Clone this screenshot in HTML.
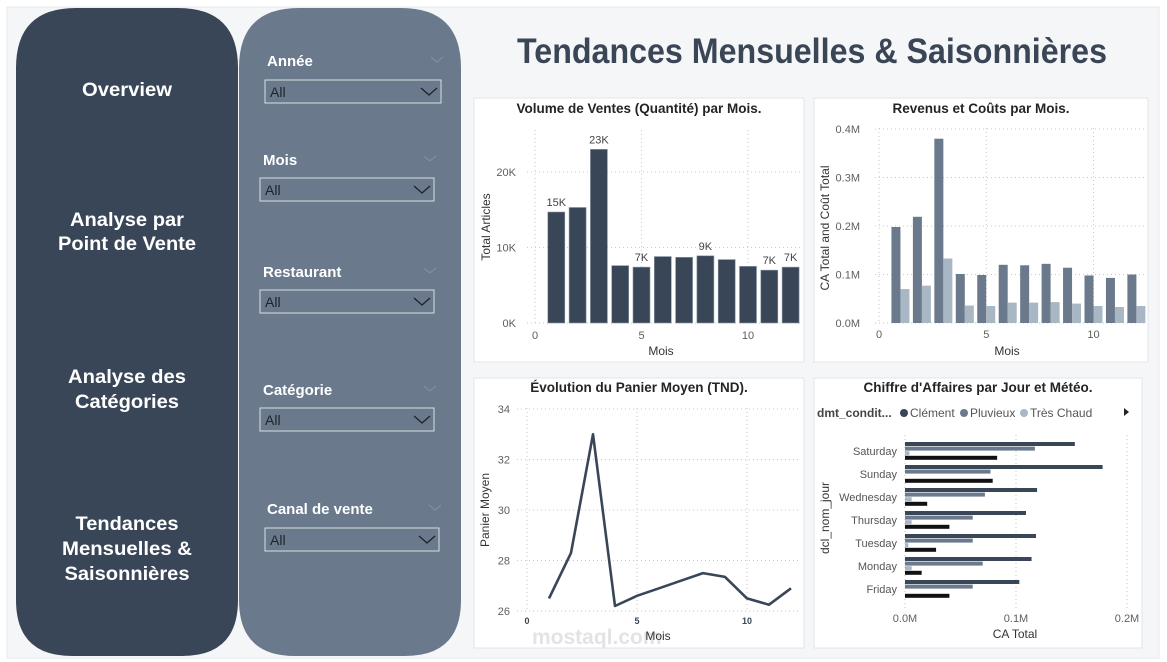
<!DOCTYPE html>
<html><head><meta charset="utf-8"><style>
html,body{margin:0;padding:0;width:1167px;height:662px;overflow:hidden;background:#fff;}
svg{display:block;font-family:"Liberation Sans",sans-serif;}
</style></head><body>
<svg id="s" width="1167" height="662" viewBox="0 0 1167 662" xmlns="http://www.w3.org/2000/svg">
<rect x="0" y="0" width="1167" height="662" fill="#ffffff"/>
<rect x="7" y="7" width="1152" height="651" fill="#f5f6f8" stroke="#e6e8eb"/>
<path d="M16,68 Q16,8 76,8 L178,8 Q238,8 238,68 L238,600 Q238,656 182,656 L72,656 Q16,656 16,600 Z" fill="#394657"/>
<path d="M239,68 Q239,8 299,8 L401,8 Q461,8 461,68 L461,600 Q461,656 405,656 L295,656 Q239,656 239,600 Z" fill="#6a7a8c"/>
<g fill="#fff" font-weight="bold" font-size="19" text-anchor="middle">
<text x="127" y="96" textLength="90" lengthAdjust="spacingAndGlyphs">Overview</text>
<g><text x="127" y="226" textLength="114" lengthAdjust="spacingAndGlyphs">Analyse par</text><text x="127" y="250" textLength="138" lengthAdjust="spacingAndGlyphs">Point de Vente</text></g>
<g><text x="127" y="383" textLength="118" lengthAdjust="spacingAndGlyphs">Analyse des</text><text x="127" y="408" textLength="104" lengthAdjust="spacingAndGlyphs">Catégories</text></g>
<g><text x="127" y="530" textLength="103" lengthAdjust="spacingAndGlyphs">Tendances</text><text x="127" y="555" textLength="130" lengthAdjust="spacingAndGlyphs">Mensuelles &amp;</text><text x="127" y="580" textLength="125" lengthAdjust="spacingAndGlyphs">Saisonnières</text></g>
</g>
<g id="slicers"></g>
<text x="812" y="63" fill="#3a4656" font-weight="bold" font-size="35" text-anchor="middle" textLength="590" lengthAdjust="spacingAndGlyphs">Tendances Mensuelles &amp; Saisonnières</text>
<g>
<rect x="474" y="98" width="330" height="264" fill="#fff" stroke="#e2e4e7"/>
<rect x="814" y="98" width="334" height="264" fill="#fff" stroke="#e2e4e7"/>
<rect x="474" y="378" width="330" height="270" fill="#fff" stroke="#e2e4e7"/>
<rect x="814" y="378" width="328" height="270" fill="#fff" stroke="#e2e4e7"/>
</g>
<g id="c1"></g>
<g id="c2"></g>
<g id="c3"></g>
<g id="c4"></g>
</svg>
<script>
// ---- data ----
const months = [1,2,3,4,5,6,7,8,9,10,11,12];
const volumeK = [14.7,15.3,23,7.6,7.4,8.8,8.7,8.9,8.4,7.5,7,7.4];
const volumeLabels = ["15K","","23K","","7K","","","9K","","","7K","7K"];
const volTicks = [0,10,20];
const revenueM = [0.198,0.219,0.38,0.101,0.099,0.12,0.119,0.122,0.114,0.098,0.093,0.1];
const costM = [0.07,0.077,0.133,0.036,0.035,0.042,0.042,0.043,0.04,0.035,0.033,0.035];
const revTicks = [0,0.1,0.2,0.3,0.4];
const panier = [26.5,28.3,33,26.2,26.6,26.9,27.2,27.5,27.35,26.5,26.25,26.9];
const panierTicks = [26,28,30,32,34];
const xTicks = [0,5,10];
const days = ["Saturday","Sunday","Wednesday","Thursday","Tuesday","Monday","Friday"];
const clement = [0.153,0.178,0.119,0.109,0.118,0.114,0.103];
const pluvieux = [0.117,0.077,0.072,0.061,0.061,0.07,0.061];
const tresChaud = [0.004,0,0.006,0.006,0.003,0.006,0];
const autre = [0.083,0.079,0.02,0.04,0.028,0.015,0.04];
const caTicks = [0,0.1,0.2];
const slicerNames = ["Année","Mois","Restaurant","Catégorie","Canal de vente"];

const NS="http://www.w3.org/2000/svg";
function el(p,tag,a,txt){const e=document.createElementNS(NS,tag);for(const k in a)e.setAttribute(k,a[k]);if(txt!==undefined)e.textContent=txt;p.appendChild(e);return e;}

// slicers
const sl=document.getElementById('slicers');
const slY=[[267,60,265,80,176],[263,159,260,178,174],[263,271,260,290,174],[263,389,260,408,174],[267,508,265,528,174]];
slicerNames.forEach((n,i)=>{const [lx,ly,bx,by,w]=slY[i];
 let t=el(sl,'text',{x:lx,y:ly+6,fill:'#fff','font-weight':'bold','font-size':15},n);
 
 
 let c=el(sl,'path',{d:`M${bx+w-10},${ly-3} l6,5 l6,-5`,fill:'none',stroke:'#8592a1','stroke-width':1});
 
 
 let g=el(sl,'g',{});
 
 
 el(g,'rect',{x:bx,y:by,width:w,height:23,fill:'#6a7a8c',stroke:'#d9dde2','stroke-width':1});
 el(g,'text',{x:bx+5,y:by+17,fill:'#1d232b','font-size':14},'All');
 el(g,'path',{d:`M${bx+w-20},${by+8} l8,7 l8,-7`,fill:'none',stroke:'#1d232b','stroke-width':1.3});
});

function title(g,x,y,t){let e=el(g,'text',{x:x,y:y,'text-anchor':'middle','font-weight':'bold','font-size':13.5,fill:'#252423'},t);}
const grid={stroke:'#c8c8c8','stroke-dasharray':'1,3','stroke-width':1};
const tickF={fill:'#605e5c','font-size':11};

// chart 1
(function(){const g=document.getElementById('c1');
 const X=v=>535+21.3*v, Y=v=>323-7.55*v;
 title(g,639,113,'Volume de Ventes (Quantité) par Mois.');
 volTicks.forEach(t=>{el(g,'line',Object.assign({x1:527,x2:800,y1:Y(t),y2:Y(t)},grid));el(g,'text',Object.assign({x:516,y:Y(t)+4,'text-anchor':'end'},tickF),t+'K');});
 xTicks.forEach(t=>{el(g,'line',Object.assign({x1:X(t),x2:X(t),y1:130,y2:323},grid));el(g,'text',Object.assign({x:X(t),y:339,'text-anchor':'middle'},tickF),t);});
 months.forEach((m,i)=>{let r=el(g,'rect',{x:X(m)-8.5,y:Y(volumeK[i]),width:17,height:Y(0)-Y(volumeK[i]),fill:'#394657',stroke:'#8896a5','stroke-width':0.6});
  
  
  if(volumeLabels[i])el(g,'text',Object.assign({x:X(m),y:Y(volumeK[i])-6,'text-anchor':'middle'},{fill:'#444','font-size':11}),volumeLabels[i]);});
 el(g,'text',{x:661,y:355,'text-anchor':'middle','font-size':12,fill:'#333'},'Mois');
 el(g,'text',{transform:'translate(490,227) rotate(-90)','text-anchor':'middle','font-size':12,fill:'#333'},'Total Articles');
})();

// chart 2
(function(){const g=document.getElementById('c2');
 const X=v=>879+21.45*v, Y=v=>323-485*v;
 title(g,981,113,'Revenus et Coûts par Mois.');
 revTicks.forEach(t=>{el(g,'line',Object.assign({x1:875,x2:1146,y1:Y(t),y2:Y(t)},grid));el(g,'text',Object.assign({x:860,y:Y(t)+4,'text-anchor':'end'},tickF),t.toFixed(1)+'M');});
 xTicks.forEach(t=>{el(g,'line',Object.assign({x1:X(t),x2:X(t),y1:128,y2:323},grid));el(g,'text',Object.assign({x:X(t),y:338,'text-anchor':'middle'},tickF),t);});
 months.forEach((m,i)=>{let r=el(g,'rect',{x:X(m)-9,y:Y(revenueM[i]),width:9,height:Y(0)-Y(revenueM[i]),fill:'#6a7a8c'});
  
  
  let c=el(g,'rect',{x:X(m),y:Y(costM[i]),width:9,height:Y(0)-Y(costM[i]),fill:'#a9b6c4'});
  
  });
 el(g,'text',{x:1007,y:355,'text-anchor':'middle','font-size':12,fill:'#333'},'Mois');
 el(g,'text',{transform:'translate(829,228) rotate(-90)','text-anchor':'middle','font-size':12,fill:'#333'},'CA Total and Coût Total');
})();

// chart 3
(function(){const g=document.getElementById('c3');
 const X=v=>527+22*v, Y=v=>611-25.25*(v-26);
 title(g,639,392,'Évolution du Panier Moyen (TND).');
 panierTicks.forEach(t=>{el(g,'line',Object.assign({x1:517,x2:800,y1:Y(t),y2:Y(t)},grid));el(g,'text',Object.assign({x:510,y:Y(t)+4,'text-anchor':'end'},tickF),t);});
 xTicks.forEach(t=>{el(g,'line',Object.assign({x1:X(t),x2:X(t),y1:408,y2:612},grid));el(g,'text',Object.assign({x:X(t),y:624,'text-anchor':'middle'},{fill:'#3a4656','font-size':9,'font-weight':'bold'}),t);});
 let d=months.map((m,i)=>(i?'L':'M')+X(m).toFixed(1)+','+Y(panier[i]).toFixed(1)).join(' ');
 let p=el(g,'path',{d:d,fill:'none',stroke:'#394657','stroke-width':2.6,'stroke-linejoin':'round'});
 
 
 el(g,'text',{x:532,y:644,'font-size':21,'font-weight':'bold',fill:'#d8d8d8',opacity:0.7},'mostaql.com');
 el(g,'text',{x:658,y:640,'text-anchor':'middle','font-size':12,fill:'#333'},'Mois');
 el(g,'text',{transform:'translate(489,510) rotate(-90)','text-anchor':'middle','font-size':12,fill:'#333'},'Panier Moyen');
})();

// chart 4
(function(){const g=document.getElementById('c4');
 const X=v=>905+1110*v, Yc=i=>451+23*i;
 title(g,978,392,"Chiffre d'Affaires par Jour et Météo.");
 el(g,'text',{x:817,y:417,'font-size':12,'font-weight':'bold',fill:'#444'},'dmt_condit...');
 [['Clément','#394657',900],['Pluvieux','#6a7a8c',960],['Très Chaud','#a9b6c4',1020]].forEach(l=>{el(g,'circle',{cx:l[2]+4,cy:413,r:4,fill:l[1]});el(g,'text',{x:l[2]+10,y:417,'font-size':12,fill:'#555'},l[0]);});
 el(g,'path',{d:'M1124,408 l5,4 l-5,4 z',fill:'#222'});
 caTicks.forEach(t=>{el(g,'line',Object.assign({x1:X(t),x2:X(t),y1:435,y2:608},grid));el(g,'text',Object.assign({x:X(t),y:622,'text-anchor':'middle'},tickF),t.toFixed(1)+'M');});
 const series=[[clement,'#394657'],[pluvieux,'#6a7a8c'],[tresChaud,'#a9b6c4'],[autre,'#111']];
 days.forEach((d,i)=>{el(g,'text',{x:897,y:Yc(i)+4,'text-anchor':'end','font-size':11,fill:'#555'},d);
  series.forEach((s,j)=>{let r=el(g,'rect',{x:X(0),y:Yc(i)-9+j*4.6,width:Math.max(0,X(s[0][i])-X(0)),height:4,fill:s[1]});
   
   });});
 el(g,'text',{x:1015,y:638,'text-anchor':'middle','font-size':12,fill:'#333'},'CA Total');
 el(g,'text',{transform:'translate(829,518) rotate(-90)','text-anchor':'middle','font-size':12,fill:'#333'},'dcl_nom_jour');
})();
</script>
</body></html>
